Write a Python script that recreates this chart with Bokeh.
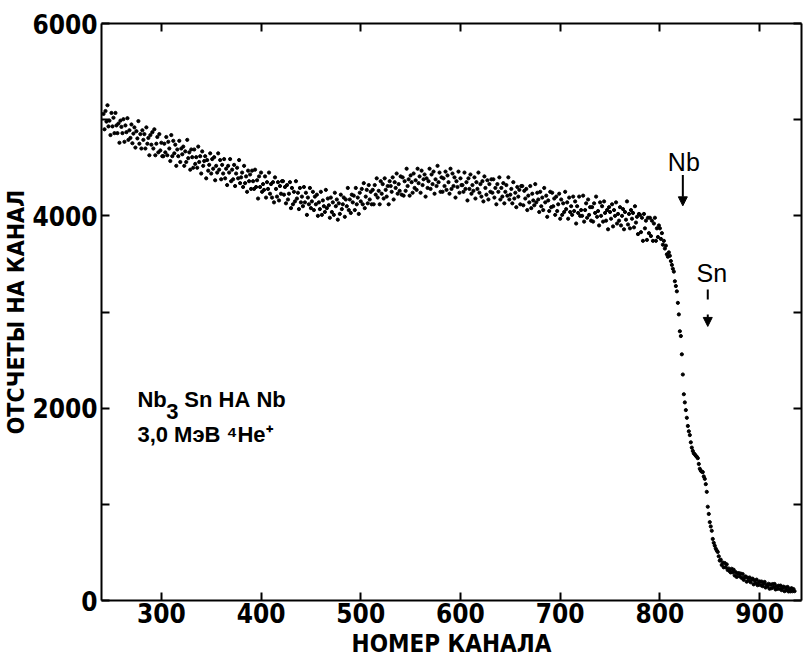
import numpy as np
from bokeh.plotting import figure
from bokeh.models import (LinearAxis, FixedTicker, Range1d, Label, Arrow, NormalHead,
                          ColumnDataSource, CustomJSTickFormatter)
from bokeh.embed import file_html
from bokeh.resources import INLINE

# ---------------- data (counts per channel) ----------------
first_channel = 242

counts_200s = [5060, 4900, 5090, 4980, 5150, 4930, 4990, 4840,
               5070, 4930, 5020, 4860, 5070, 4940, 4860, 4960, 4760, 4990,
               4925, 4860, 5005, 4770, 4940, 4870, 5015, 4790, 4890, 4810,
               4950, 4755, 4855, 4920, 4710, 4880, 4805, 4985, 4750, 4850,
               4700, 4890, 4790, 4850, 4700, 4920, 4750, 4810, 4630, 4840,
               4740, 4870, 4700, 4900, 4630, 4750, 4820, 4660, 4850, 4680]

counts_300s = [4760, 4620, 4620, 4750, 4660, 4820, 4630, 4770, 4700, 4570,
               4840, 4620, 4780, 4650, 4740, 4520, 4690, 4620, 4780, 4560,
               4700, 4640, 4720, 4520, 4670, 4560, 4790, 4600, 4660, 4480,
               4690, 4610, 4500, 4690, 4540, 4610, 4500, 4720, 4560, 4620,
               4440, 4670, 4520, 4570, 4620, 4390, 4580, 4470, 4530, 4650,
               4440, 4590, 4490, 4610, 4370, 4520, 4450, 4650, 4480, 4580,
               4380, 4530, 4440, 4590, 4390, 4490, 4320, 4520, 4450, 4590,
               4360, 4480, 4380, 4530, 4310, 4440, 4500, 4390, 4580, 4340,
               4400, 4450, 4300, 4520, 4340, 4410, 4250, 4470, 4360, 4430,
               4280, 4470, 4360, 4280, 4480, 4300, 4370, 4180, 4410, 4300]

counts_400s = [4450, 4250, 4330, 4270, 4410, 4190, 4350, 4280, 4450, 4230,
               4330, 4190, 4350, 4140, 4400, 4280, 4200, 4350, 4160, 4310,
               4230, 4360, 4360, 4220, 4300, 4130, 4320, 4170, 4230, 4350,
               4080, 4290, 4120, 4250, 4150, 4360, 4180, 4240, 4070, 4290,
               4140, 4200, 4100, 4300, 4140, 4240, 4010, 4190, 4120, 4290,
               4080, 4150, 4250, 4060, 4200, 4120, 4220, 4000, 4140, 4070,
               4250, 4010, 4160, 4100, 4040, 4270, 4080, 4180, 4110, 3980,
               4190, 4040, 4140, 4010, 4240, 4100, 4170, 3960, 4130, 4020,
               4220, 4070, 4120, 4190, 3990, 4170, 4100, 4290, 4060, 4170,
               4030, 4220, 4140, 4210, 4060, 4290, 4120, 4190, 4020, 4240]

counts_500s = [4150, 4280, 4120, 4340, 4080, 4200, 4270, 4130, 4320, 4170,
               4250, 4120, 4270, 4120, 4320, 4220, 4390, 4190, 4260, 4120,
               4360, 4230, 4330, 4180, 4390, 4270, 4200, 4310, 4120, 4360,
               4310, 4250, 4400, 4170, 4350, 4290, 4440, 4230, 4330, 4260,
               4410, 4220, 4400, 4210, 4360, 4260, 4490, 4310, 4380, 4210,
               4420, 4350, 4240, 4440, 4290, 4370, 4270, 4490, 4340, 4410,
               4240, 4470, 4320, 4380, 4430, 4200, 4390, 4290, 4360, 4490,
               4280, 4430, 4330, 4460, 4230, 4380, 4310, 4520, 4350, 4450,
               4250, 4400, 4250, 4390, 4310, 4460, 4270, 4420, 4350, 4230,
               4490, 4280, 4440, 4310, 4400, 4190, 4360, 4300, 4460, 4240]

counts_600s = [4390, 4320, 4320, 4250, 4450, 4280, 4350, 4160, 4390, 4280,
               4430, 4230, 4320, 4260, 4400, 4180, 4350, 4280, 4450, 4240,
               4330, 4200, 4360, 4150, 4410, 4290, 4220, 4370, 4170, 4330,
               4250, 4380, 4240, 4380, 4190, 4290, 4120, 4330, 4250, 4400,
               4170, 4290, 4200, 4340, 4130, 4250, 4320, 4210, 4400, 4170,
               4220, 4280, 4130, 4350, 4180, 4240, 4090, 4300, 4200, 4270,
               4120, 4310, 4310, 4110, 4260, 4180, 4280, 4060, 4210, 4140,
               4310, 4080, 4230, 4160, 4110, 4330, 4140, 4240, 4170, 4040,
               4250, 4100, 4190, 4060, 4290, 4140, 4210, 3990, 4160, 4050,
               4250, 4090, 4240, 4100, 4180, 4010, 4200, 4050, 4120, 4230]

counts_700s = [3970, 4170, 4010, 4130, 4040, 4250, 4070, 4140, 3970, 4190,
               4040, 4100, 4010, 4200, 4050, 4150, 3920, 4100, 4030, 4200,
               4000, 4060, 4000, 4210, 3940, 4060, 4130, 3980, 4170, 4010,
               4090, 3950, 4090, 3940, 4130, 4030, 4200, 3990, 4050, 3900,
               4140, 4000, 4100, 3940, 4150, 4030, 3950, 4060, 3860, 4090,
               4040, 3970, 4120, 3890, 4060, 4000, 4140, 3920, 4020, 3950,
               4090, 3900, 4000, 4070, 3860, 4040, 3960, 4150, 3910, 4020,
               3870, 4060, 3970, 4030, 3880, 4100, 3930, 3990, 3810, 4020,
               4010, 3830, 3980, 3740, 4020, 3870, 3950, 3750, 3980, 3820,
               3980, 3790, 3950, 3740, 3920, 3980, 3740, 3870, 3780, 3900]

counts_800s = [3870, 3760, 3820, 3700, 3740, 3660, 3690, 3600, 3575, 3620,
               3585, 3530, 3490, 3450, 3420, 3320, 3270, 3215, 3095, 2975,
               2800, 2750, 2560, 2350, 2145, 2060, 1980, 1900, 1815, 1760,
               1720, 1645, 1590, 1555, 1530, 1520, 1505, 1495, 1480, 1420,
               1370, 1350, 1340, 1335, 1290, 1265, 1210, 1130, 975, 900,
               815, 770, 725, 640, 600, 570, 540, 520, 505, 460,
               415, 425, 370, 395, 345, 390, 345, 376, 317, 333,
               305, 292, 330, 293, 320, 260, 295, 245, 280, 285,
               250, 280, 235, 275, 215, 240, 250, 196, 237, 208,
               239, 190, 216, 227, 168, 209, 180, 217, 159, 186]

counts_900s = [198, 160, 197, 149, 176, 193, 135, 163, 146, 174,
               122, 165, 128, 171, 139, 172, 115, 148, 121, 154,
               122, 155, 108, 131, 144, 97, 135, 108, 141, 94,
               122, 95, 128, 96, 119, 97]

x_ticks = [300, 400, 500, 600, 700, 800, 900]
y_ticks = [0, 2000, 4000, 6000]
y_minor_ticks = [1000, 3000, 5000]
y_all_ticks = [0, 1000, 2000, 3000, 4000, 5000, 6000]

edge_labels = ["Nb", "Sn"]
edge_channels = [823, 848]

x_title = "НОМЕР КАНАЛА"
y_title = "ОТСЧЕТЫ НА КАНАЛ"
note_a, note_sub, note_b = "Nb", "3", "Sn НА Nb"
note_line2 = "3,0 МэВ \u2074He\u207a"

counts = (counts_200s + counts_300s + counts_400s + counts_500s +
          counts_600s + counts_700s + counts_800s + counts_900s)
channels = np.arange(first_channel, first_channel + len(counts))
src = ColumnDataSource(dict(ch=channels, n=counts))

# ---------------- figure ----------------
FONT = "'DejaVu Sans Condensed', 'Liberation Sans', sans-serif"
TEXT_FONT = "'Liberation Sans', sans-serif"
p = figure(width=803, height=660, output_backend="svg", toolbar_location=None,
           x_range=Range1d(240, 942), y_range=Range1d(0, 6000),
           x_axis_location=None, y_axis_location=None,
           min_border_left=101, min_border_right=2, min_border_top=23, min_border_bottom=58)
p.outline_line_color = None
p.xgrid.visible = False
p.ygrid.visible = False
p.background_fill_color = "white"
p.border_fill_color = "white"

def style_axis(ax, labels=True):
    ax.axis_line_width = 2
    ax.axis_line_color = "black"
    ax.major_tick_in = 8
    ax.major_tick_out = 0
    ax.major_tick_line_width = 2
    ax.minor_tick_in = 8
    ax.minor_tick_out = 0
    ax.minor_tick_line_width = 2
    ax.major_label_text_font = FONT
    ax.major_label_text_font_style = "bold"
    ax.major_label_text_color = "black"
    ax.major_label_text_font_size = "26px"
    ax.axis_label_text_font = FONT
    ax.axis_label_text_font_style = "bold"
    ax.axis_label_text_color = "black"
    if not labels:
        ax.formatter = CustomJSTickFormatter(code="return ''")
        ax.major_label_standoff = 0

xb = LinearAxis(ticker=FixedTicker(ticks=x_ticks), axis_label=x_title)
style_axis(xb)
xb.major_label_standoff = 2
xb.axis_label_standoff = 4
xb.axis_label_text_font_size = "24px"
p.add_layout(xb, "below")

yl = LinearAxis(ticker=FixedTicker(ticks=y_ticks, minor_ticks=y_minor_ticks), axis_label=y_title)
style_axis(yl)
yl.major_label_standoff = 4
yl.axis_label_standoff = 0
yl.axis_label_text_font_size = "23px"
p.add_layout(yl, "left")

xt = LinearAxis(ticker=FixedTicker(ticks=x_ticks))
style_axis(xt, labels=False)
p.add_layout(xt, "above")

yr = LinearAxis(ticker=FixedTicker(ticks=y_all_ticks))
style_axis(yr, labels=False)
p.add_layout(yr, "right")

# data points
p.scatter("ch", "n", source=src, size=3.2, color="black", marker="circle")

# Nb / Sn edge markers
nb_ch, sn_ch = edge_channels
p.add_layout(Label(x=nb_ch + 1, y=4560, text=edge_labels[0], text_align="center",
                   text_baseline="middle", text_font=TEXT_FONT, text_font_size="25px",
                   text_color="black"))
p.add_layout(Arrow(x_start=nb_ch, y_start=4425, x_end=nb_ch, y_end=4104,
                   line_width=2, line_color="black",
                   end=NormalHead(size=9, fill_color="black", line_color="black", line_width=1)))
p.add_layout(Label(x=sn_ch + 4, y=3409, text=edge_labels[1], text_align="center",
                   text_baseline="middle", text_font=TEXT_FONT, text_font_size="25px",
                   text_color="black"))
p.add_layout(Arrow(x_start=sn_ch, y_start=3233, x_end=sn_ch, y_end=2850,
                   line_width=2, line_color="black", line_dash="10 15",
                   end=NormalHead(size=9, fill_color="black", line_color="black", line_width=1)))

# sample note
note_style = dict(text_align="left", text_baseline="middle", text_font=TEXT_FONT,
                  text_font_style="bold", text_font_size="22px", text_color="black")
p.add_layout(Label(x=276, y=2093, text=note_a, **note_style))
p.add_layout(Label(x=305, y=1970, text=note_sub, **note_style))
p.add_layout(Label(x=323, y=2093, text=note_b, **note_style))
p.add_layout(Label(x=276, y=1731, text=note_line2, **note_style))

open("out.html", "w").write(file_html(p, INLINE))
